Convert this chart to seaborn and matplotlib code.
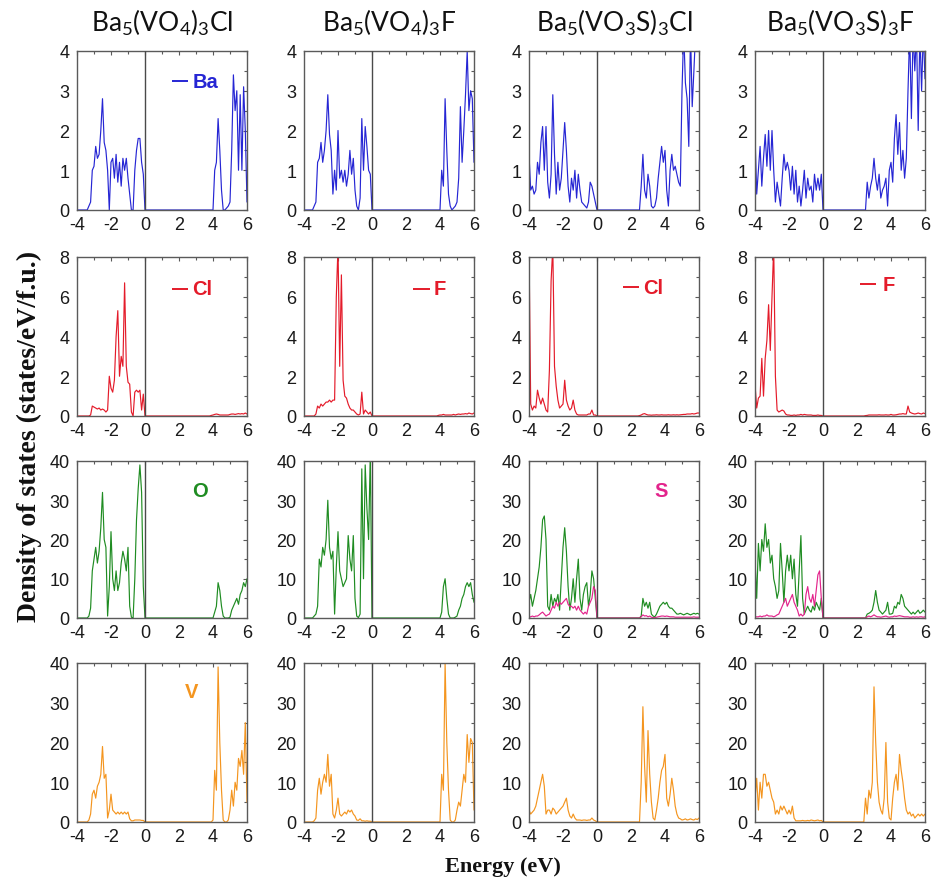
import numpy as np
import pandas as pd
import matplotlib
matplotlib.use("Agg")
import matplotlib.pyplot as plt
from matplotlib.ticker import MultipleLocator
import seaborn as sns

# ---------------------------------------------------------------------------
# Energy sampling (eV): valence window (-4..0) and conduction window (2..6)
# ---------------------------------------------------------------------------
E_VB = np.linspace(-4.0, 0.0, 41)
E_CB = np.linspace(2.0, 6.0, 41)

compounds = [r"Ba$_5$(VO$_4$)$_3$Cl", r"Ba$_5$(VO$_4$)$_3$F",
             r"Ba$_5$(VO$_3$S)$_3$Cl", r"Ba$_5$(VO$_3$S)$_3$F"]
halides = ["Cl", "F", "Cl", "F"]
x_ticks = [-4, -2, 0, 2, 4, 6]

# ---------------------------- Ba partial DOS -------------------------------
ba_vb_1 = [0, 0, 0, 0, 0, 0, 0, 0.1, 0.2, 1.0, 1.1, 1.6, 1.3, 1.4, 2.0, 2.8, 1.7, 1.5, 1.0, 0.0,
           1.2, 1.3, 0.8, 1.4, 0.7, 1.2, 0.6, 1.3, 1.0, 1.3, 0.8, 0.4, 0.0, 0.0, 1.0, 1.5, 1.8, 1.8,
           1.2, 0.9, 0.0]
ba_cb_1 = [0, 0, 0, 0, 0, 0, 0, 0, 0, 0, 0, 0, 0, 0, 0, 0, 0, 0, 0, 0, 0,
           1.0, 1.2, 2.3, 1.5, 0.5, 0.0, 0.0, 0.05, 0.1, 0.2, 1.5, 3.4, 2.5, 3.0, 1.0, 2.9, 1.0,
           3.1, 2.0, 0.2]
ba_vb_2 = [0, 0, 0, 0, 0, 0, 0.1, 0.2, 1.2, 1.3, 1.7, 1.2, 1.5, 2.0, 2.9, 1.9, 1.5, 0.4, 1.0, 0.5,
           2.0, 0.8, 1.0, 0.7, 1.0, 0.6, 0.9, 1.5, 0.9, 1.3, 0.5, 0.1, 0.0, 0.3, 2.3, 1.0, 2.1, 1.6,
           1.0, 0.9, 0.0]
ba_cb_2 = [0, 0, 0, 0, 0, 0, 0, 0, 0, 0, 0, 0, 0, 0, 0, 0, 0, 0, 0, 0, 0,
           1.0, 0.6, 2.8, 1.5, 0.4, 0.1, 0.0, 0.05, 0.1, 0.2, 0.8, 2.6, 1.2, 2.0, 2.9, 4.0, 2.5,
           3.0, 2.8, 1.2]
ba_vb_3 = [1.4, 0.5, 0.6, 0.4, 0.5, 1.2, 0.9, 1.7, 2.1, 1.0, 2.1, 0.7, 0.3, 0.9, 2.9, 1.4, 0.4, 1.2,
           0.5, 0.8, 1.5, 2.2, 1.5, 0.6, 0.2, 0.8, 0.5, 1.0, 0.3, 0.9, 0.5, 0.2, 0.15, 0.1, 0.05,
           0.2, 0.7, 0.6, 0.4, 0.2, 0.0]
ba_cb_3 = [0, 0, 0, 0, 0, 0, 0.6, 1.4, 0.5, 0.3, 0.9, 0.6, 0.1, 0.05, 0.1, 0.3, 0.8, 1.2, 1.6, 1.2,
           1.5, 0.5, 0.1, 1.0, 1.4, 1.0, 1.1, 0.9, 0.7, 0.6, 3.0, 4.5, 3.2, 2.8, 1.6, 4.5, 2.6, 3.5,
           4.5, 4.5, 4.5]
ba_vb_4 = [1.9, 0.4, 1.0, 1.6, 0.6, 1.3, 1.9, 1.1, 2.0, 1.0, 2.0, 1.0, 0.2, 0.7, 0.4, 0.1, 0.8, 1.4,
           1.0, 1.2, 1.0, 0.5, 1.1, 0.4, 1.0, 0.2, 0.6, 0.1, 0.5, 1.0, 0.3, 0.8, 0.5, 0.6, 0.2, 0.9,
           0.5, 0.8, 0.5, 0.9, 0.0]
ba_cb_4 = [0, 0, 0, 0, 0, 0, 0.7, 0.3, 0.6, 0.8, 1.3, 0.8, 0.5, 0.9, 0.3, 0.5, 0.6, 0.8, 0.1, 1.0,
           1.2, 0.7, 1.8, 2.4, 1.4, 2.2, 1.0, 1.5, 0.8, 1.3, 3.0, 4.5, 2.3, 4.5, 3.5, 4.5, 2.0, 4.5,
           3.0, 4.5, 3.3]

# ------------------------- halide (Cl / F) partial DOS ---------------------
hal_vb_1 = [0, 0, 0, 0, 0, 0, 0, 0, 0.05, 0.5, 0.45, 0.4, 0.35, 0.4, 0.3, 0.35, 0.3, 0.2, 0.3, 2.0,
            1.4, 1.2, 1.8, 4.0, 5.3, 2.0, 3.0, 2.5, 6.7, 2.5, 1.7, 1.6, 0.2, 0.0, 1.2, 1.3, 1.2,
            1.3, 0.3, 1.1, 0.0]
hal_cb_1 = [0, 0, 0, 0, 0, 0, 0, 0, 0, 0, 0, 0, 0, 0, 0, 0, 0, 0, 0, 0.03, 0.05, 0.08, 0.1, 0.08,
            0.05, 0.05, 0.05, 0.05, 0.05, 0.05, 0.08, 0.1, 0.1, 0.08, 0.1, 0.12, 0.1, 0.12, 0.1,
            0.15, 0.1]
hal_vb_2 = [0, 0, 0, 0, 0, 0, 0, 0.1, 0.5, 0.4, 0.6, 0.5, 0.6, 0.7, 0.7, 0.8, 0.7, 0.8, 0.8, 6.0,
            8.5, 2.5, 7.1, 1.8, 1.0, 0.9, 0.6, 0.4, 0.3, 0.3, 0.2, 0.1, 0.05, 0.1, 1.2, 0.1, 0.3,
            0.2, 0.1, 0.2, 0.0]
hal_cb_2 = [0, 0, 0, 0, 0, 0, 0, 0, 0, 0, 0, 0, 0, 0, 0, 0, 0, 0, 0, 0.03, 0.05, 0.05, 0.08, 0.05,
            0.05, 0.05, 0.05, 0.05, 0.08, 0.05, 0.08, 0.1, 0.08, 0.1, 0.1, 0.12, 0.1, 0.15, 0.12,
            0.1, 0.15]
hal_vb_3 = [8.5, 0.6, 0.3, 0.5, 0.4, 1.3, 0.9, 0.6, 0.9, 0.6, 0.3, 0.2, 2.3, 6.8, 8.5, 2.5, 1.5,
            0.8, 0.4, 0.5, 0.6, 1.8, 0.8, 0.5, 0.3, 0.4, 0.8, 0.3, 0.1, 0.05, 0.05, 0.05, 0.05,
            0.05, 0.05, 0.1, 0.1, 0.3, 0.05, 0.05, 0.0]
hal_cb_3 = [0, 0, 0, 0, 0, 0.02, 0.05, 0.1, 0.12, 0.08, 0.05, 0.05, 0.04, 0.05, 0.05, 0.06, 0.05,
            0.05, 0.06, 0.05, 0.05, 0.05, 0.06, 0.05, 0.05, 0.06, 0.05, 0.06, 0.05, 0.06, 0.07,
            0.08, 0.08, 0.1, 0.1, 0.1, 0.12, 0.1, 0.12, 0.15, 0.15]
hal_vb_4 = [1.6, 0.4, 0.9, 1.0, 2.9, 1.0, 2.9, 3.8, 5.6, 3.3, 6.0, 8.5, 2.0, 0.3, 0.2, 0.25, 0.3,
            0.25, 0.1, 0.05, 0.05, 0.03, 0.03, 0.05, 0.03, 0.05, 0.05, 0.08, 0.05, 0.08, 0.06,
            0.05, 0.05, 0.05, 0.03, 0.03, 0.03, 0.05, 0.03, 0.03, 0.0]
hal_cb_4 = [0, 0, 0, 0, 0, 0.02, 0.03, 0.05, 0.05, 0.05, 0.05, 0.05, 0.05, 0.06, 0.05, 0.05, 0.05,
            0.06, 0.05, 0.05, 0.08, 0.05, 0.05, 0.06, 0.08, 0.1, 0.1, 0.12, 0.1, 0.1, 0.5, 0.2,
            0.15, 0.12, 0.1, 0.12, 0.15, 0.12, 0.1, 0.15, 0.12]

# ----------------------------- O partial DOS -------------------------------
o_vb_1 = [0, 0, 0, 0, 0, 0, 0, 0.5, 2.5, 12, 15, 18, 14, 17, 23, 32, 20, 18, 0.5, 8, 22, 10, 7, 12,
          7, 9, 14, 17, 15, 12, 18, 3, 0.2, 0, 10, 25, 33, 39, 32, 8, 0]
o_cb_1 = [0, 0, 0, 0, 0, 0, 0, 0, 0, 0, 0, 0, 0, 0, 0, 0, 0, 0, 0, 0, 0,
          1.5, 3, 9, 7, 3, 0.5, 0, 0, 0, 0.2, 2, 3, 4, 5, 3.5, 6, 7, 9, 8, 10]
o_vb_2 = [0, 0, 0, 0, 0, 0, 0.5, 1, 3, 15, 13, 18, 16, 20, 30, 18, 15, 17, 1, 13, 22, 12, 10, 8, 9,
          10, 21, 15, 12, 21, 5, 0.5, 0.1, 1, 38, 10, 39, 28, 20, 42, 0]
o_cb_2 = [0, 0, 0, 0, 0, 0, 0, 0, 0, 0, 0, 0, 0, 0, 0, 0, 0, 0, 0, 0, 0,
          1.5, 8, 10, 5, 1, 0, 0, 0, 0.2, 0.5, 2, 3, 5, 6, 8, 9, 8, 9, 6, 4]
o_vb_3 = [4, 6, 3, 5, 7, 10, 13, 18, 25, 26, 20, 3, 2, 6, 3, 5, 4, 6, 2, 10, 18, 23, 17, 8, 2, 5, 10,
          4, 10, 15, 5, 2, 6, 8, 9, 3, 6, 12, 10, 5, 0]
o_cb_3 = [0, 0, 0, 0, 0, 0, 0.5, 5, 3, 4, 2.5, 4, 1, 0.5, 0.3, 1, 2, 3, 3.5, 4, 3.5, 4, 3, 2.5, 2.5,
          2, 1.5, 1, 1, 1.2, 1, 0.8, 1, 1.2, 1, 0.8, 1, 1.2, 1, 1.2, 1]
o_vb_4 = [15, 5, 19, 12, 20, 17, 24, 18, 20, 14, 16, 10, 8, 5, 7, 19, 12, 4, 12, 16, 12, 16, 10, 15,
          6, 3, 12, 21, 5, 1, 2, 3, 2, 1.5, 3, 2, 4, 3, 2, 5, 0]
o_cb_4 = [0, 0, 0, 0, 0, 0, 1, 1.2, 1.5, 2, 4, 7, 4, 2, 1.5, 1, 1.5, 2, 4, 1, 1, 1.2, 3, 2.5, 4, 3.5,
          6, 5, 3, 2.5, 2, 1.5, 1, 1.5, 1, 1.5, 2, 1.2, 1.5, 2, 1.5]

# ----------------------------- S partial DOS -------------------------------
s_vb_3 = [0.3, 0.3, 0.5, 0.3, 0.5, 0.5, 0.8, 1.2, 1.5, 1.0, 0.5, 0.8, 1.0, 2, 3, 2.5, 4, 3, 4, 3.5,
          4, 4.5, 5, 3.5, 3, 3, 2.5, 3, 2, 3, 2, 1.5, 1, 1.5, 1, 3, 4, 5, 8, 7, 0]
s_cb_3 = [0, 0, 0, 0, 0, 0, 0.3, 0.8, 0.5, 0.6, 0.3, 0.5, 0.2, 0.1, 0.1, 0.2, 0.3, 0.4, 0.5, 0.5,
          0.4, 0.5, 0.4, 0.3, 0.3, 0.3, 0.2, 0.2, 0.2, 0.2, 0.2, 0.2, 0.2, 0.2, 0.2, 0.2, 0.2,
          0.3, 0.2, 0.2, 0.2]
s_vb_4 = [0.3, 0.3, 0.3, 0.5, 0.3, 0.5, 0.5, 0.8, 0.5, 0.5, 0.5, 0.3, 0.5, 0.8, 1, 2, 3, 4, 5, 3,
          4, 5, 6, 4, 3, 2, 0.5, 1, 0.5, 1, 6, 8, 5, 4, 6, 3, 7, 11, 12, 5, 0]
s_cb_4 = [0, 0, 0, 0, 0, 0, 0.3, 0.5, 0.3, 0.5, 0.8, 0.5, 0.3, 0.3, 0.2, 0.3, 0.4, 0.5, 0.3, 0.2,
          0.3, 0.3, 0.5, 0.4, 0.5, 0.6, 0.5, 0.4, 0.3, 0.3, 0.3, 0.2, 0.2, 0.3, 0.2, 0.3, 0.2,
          0.3, 0.3, 0.2, 0.3]

# ----------------------------- V partial DOS -------------------------------
v_vb_1 = [0, 0, 0, 0, 0, 0, 0, 0.5, 2, 7, 8, 6, 9, 10, 12, 19, 11, 12, 1, 3, 7, 3, 2.5, 2, 2.5, 2,
          2.5, 2, 2.5, 2, 2.5, 0.8, 0.3, 0.3, 0.5, 0.5, 0.5, 0.5, 0.4, 0.4, 0]
v_cb_1 = [0, 0, 0, 0, 0, 0, 0, 0, 0, 0, 0, 0, 0, 0, 0, 0, 0, 0, 0, 0,
          0.5, 13, 8, 39, 20, 8, 0.5, 0, 0, 0.5, 3, 8, 4, 10, 8, 16, 14, 18, 12, 25, 5]
v_vb_2 = [0, 0, 0, 0, 0, 0, 0.3, 1, 8, 11, 7, 10, 12, 10, 17, 9, 12, 2, 1, 3, 6, 2, 1.5, 2, 2.5, 2,
          3, 2.5, 3, 2, 1.5, 0.5, 0.4, 0.8, 0.3, 0.3, 0.2, 0.3, 0.2, 0.2, 0]
v_cb_2 = [0, 0, 0, 0, 0, 0, 0, 0, 0, 0, 0, 0, 0, 0, 0, 0, 0, 0, 0, 0, 0,
          12, 8, 40, 20, 8, 0.5, 0, 0, 0.5, 3, 5, 4, 8, 12, 10, 22, 15, 21, 20, 3]
v_vb_3 = [3, 2, 2.5, 3, 4, 6, 8, 10, 12, 9, 2, 3, 3, 2, 3.5, 3, 2, 2.5, 3, 3.5, 4, 5, 6, 3, 1.5, 1,
          2, 1, 0.5, 0.5, 0.5, 0.4, 0.5, 0.5, 0.4, 0.5, 0.5, 1, 0.5, 0.3, 0]
v_cb_3 = [0, 0, 0, 0, 0, 0, 10, 29, 14, 5, 23, 12, 5, 1, 0.5, 3, 6, 10, 13, 14, 17, 6, 4, 7, 11, 8,
          4, 2, 1, 0.8, 0.5, 0.6, 0.8, 0.5, 0.6, 0.8, 0.6, 0.5, 0.8, 0.6, 1]
v_vb_4 = [6, 11, 3, 10, 6, 12, 12, 9, 10, 8, 6, 5, 2, 3, 2, 4, 3, 4, 3, 2, 3, 2, 4, 1, 0.3, 0.3, 0.3,
          0.3, 0.4, 0.3, 0.3, 0.4, 0.3, 0.5, 0.4, 0.3, 0.4, 0.5, 0.3, 0.4, 0]
v_cb_4 = [0, 0, 0, 0, 0, 6, 2, 8, 6, 10, 34, 20, 10, 5, 3, 2, 6, 20, 5, 1, 0.5, 6, 10, 12, 8, 17,
          13, 10, 6, 3, 2, 2.5, 1.5, 2, 1, 1.5, 2, 1.5, 2, 1.5, 2]

# ---------------------------------------------------------------------------
sns.set_theme(style="white")
plt.rcParams["font.family"] = ["Liberation Sans", "DejaVu Sans"]
plt.rcParams["mathtext.default"] = "regular"
plt.rcParams["axes.unicode_minus"] = False

C_BA, C_HAL, C_O, C_S, C_V = "#2626d4", "#e41b2a", "#1f8c22", "#e3248c", "#f4951f"
SPINE = "#5a5a5a"

W, H = 933, 879
fig = plt.figure(figsize=(W / 100, H / 100), dpi=100)
fig.patch.set_facecolor("white")

col_left = [77, 304, 529, 755]
col_w = 170
row_top = [52, 258, 462, 664]
row_bot = [211, 417, 619, 823]


def make_ax(r, c):
    left = col_left[c] / W
    bottom = 1 - row_bot[r] / H
    height = (row_bot[r] - row_top[r]) / H
    return fig.add_axes([left, bottom, col_w / W, height])


def draw(ax, vb, cb, color, lw=0.85):
    df = pd.DataFrame({"energy": np.concatenate([E_VB, E_CB]),
                       "dos": np.concatenate([vb, cb])})
    sns.lineplot(data=df, x="energy", y="dos", ax=ax, color=color, lw=lw,
                 estimator=None, sort=False)


def style(ax, ymax, ymajor, yminor):
    ax.set_xlim(-4, 6)
    ax.set_ylim(0, ymax)
    ax.xaxis.set_minor_locator(MultipleLocator(1))
    ax.yaxis.set_major_locator(MultipleLocator(ymajor))
    ax.yaxis.set_minor_locator(MultipleLocator(yminor))
    ax.set_xticks(x_ticks)
    ax.set_xticklabels([str(t) for t in x_ticks])
    ax.tick_params(which="both", direction="in", top=True, right=True,
                   color=SPINE, width=0.8)
    ax.tick_params(which="major", length=3, labelsize=13, labelcolor="#1a1a1a")
    ax.tick_params(axis="x", which="major", pad=4.5)
    ax.tick_params(axis="y", which="major", pad=5.5)
    ax.tick_params(which="minor", length=2)
    for sp in ax.spines.values():
        sp.set_color(SPINE)
        sp.set_linewidth(1.0)
    ax.axvline(0, color="#4a4a4a", lw=1.0, zorder=3)
    ax.set_xlabel("")
    ax.set_ylabel("")
    ax.set_facecolor("white")


def legend_entry(ax, label, color, x0, x1, xt, y, line=True):
    if line:
        ax.plot([x0, x1], [y, y], transform=ax.transAxes, color=color, lw=1.4,
                solid_capstyle="butt")
    ax.text(xt, y, label, transform=ax.transAxes, color=color, fontsize=14.5,
            fontweight="bold", ha="left", va="center")


ba_vb = [ba_vb_1, ba_vb_2, ba_vb_3, ba_vb_4]
ba_cb = [ba_cb_1, ba_cb_2, ba_cb_3, ba_cb_4]
hal_vb = [hal_vb_1, hal_vb_2, hal_vb_3, hal_vb_4]
hal_cb = [hal_cb_1, hal_cb_2, hal_cb_3, hal_cb_4]
o_vb = [o_vb_1, o_vb_2, o_vb_3, o_vb_4]
o_cb = [o_cb_1, o_cb_2, o_cb_3, o_cb_4]
v_vb = [v_vb_1, v_vb_2, v_vb_3, v_vb_4]
v_cb = [v_cb_1, v_cb_2, v_cb_3, v_cb_4]
s_vb = {2: s_vb_3, 3: s_vb_4}
s_cb = {2: s_cb_3, 3: s_cb_4}

hal_legend_pos = [(0.557, 0.655, 0.675, 0.80), (0.64, 0.74, 0.76, 0.80),
                  (0.55, 0.645, 0.67, 0.81), (0.62, 0.71, 0.75, 0.83)]

for c in range(4):
    # Ba row
    ax = make_ax(0, c)
    draw(ax, ba_vb[c], ba_cb[c], C_BA)
    style(ax, 4, 1, 0.5)
    if c == 0:
        legend_entry(ax, "Ba", C_BA, 0.557, 0.655, 0.68, 0.81)

    # halide row
    ax = make_ax(1, c)
    draw(ax, hal_vb[c], hal_cb[c], C_HAL)
    style(ax, 8, 2, 1)
    x0, x1, xt, y = hal_legend_pos[c]
    legend_entry(ax, halides[c], C_HAL, x0, x1, xt, y)

    # O (and S) row
    ax = make_ax(2, c)
    draw(ax, o_vb[c], o_cb[c], C_O)
    if c in s_vb:
        draw(ax, s_vb[c], s_cb[c], C_S)
    style(ax, 40, 10, 5)
    if c == 0:
        legend_entry(ax, "O", C_O, 0, 0, 0.68, 0.815, line=False)
    if c == 2:
        legend_entry(ax, "S", C_S, 0, 0, 0.74, 0.815, line=False)

    # V row
    ax = make_ax(3, c)
    draw(ax, v_vb[c], v_cb[c], C_V)
    style(ax, 40, 10, 5)
    if c == 0:
        legend_entry(ax, "V", C_V, 0, 0, 0.635, 0.82, line=False)

    # compound title
    fig.text((col_left[c] + col_w / 2) / W, 1 - 32 / H, compounds[c],
             ha="center", va="baseline", fontsize=19, color="#111111",
             family=["Lato", "DejaVu Sans"])

fig.text(29 / W, 1 - 436 / H, "Density of states (states/eV/f.u.)", rotation=90,
         ha="center", va="center", fontsize=20, fontweight="bold",
         family=["Liberation Serif", "DejaVu Serif"], color="#111111")
fig.text(503 / W, 1 - 867 / H, "Energy (eV)", ha="center", va="center",
         fontsize=16, fontweight="bold", family=["Liberation Serif", "DejaVu Serif"],
         color="#111111")

fig.savefig("out.png", dpi=100, facecolor="white")
